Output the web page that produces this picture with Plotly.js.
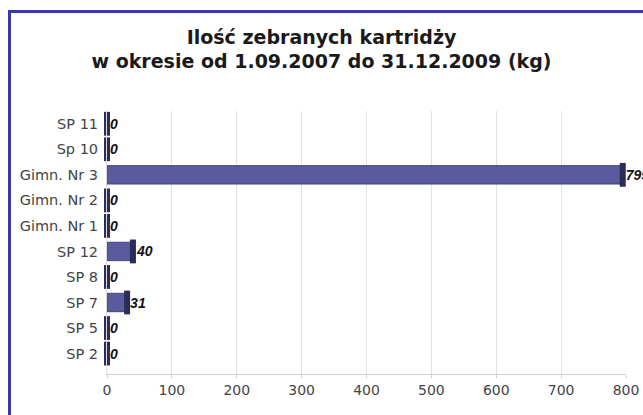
<!DOCTYPE html>
<html>
<head>
<meta charset="utf-8">
<script src="https://cdn.plot.ly/plotly-3.0.1.min.js"></script>
<style>
html,body{margin:0;padding:0;background:#fff;}
#wrap{position:relative;width:643px;height:415px;overflow:hidden;}
#frame{position:absolute;left:8px;top:10px;width:700px;height:500px;border-left:3px solid #3a3aa6;border-top:3px solid #3a3aa6;box-sizing:border-box;pointer-events:none;z-index:5;}
#chart{position:absolute;left:0;top:0;width:643px;height:415px;}
</style>
</head>
<body>
<div id="wrap"><div id="chart"></div><div id="frame"></div></div>
<script>
var categories = ["SP 2","SP 5","SP 7","SP 8","SP 12","Gimn. Nr 1","Gimn. Nr 2","Gimn. Nr 3","Sp 10","SP 11"];
var values = [0, 0, 31, 0, 40, 0, 0, 795, 0, 0];
var tickValues = [0,100,200,300,400,500,600,700,800];

var FONT = 'DejaVu Sans, Liberation Sans, Arial, sans-serif';

var bars = {
  type: 'bar',
  orientation: 'h',
  y: categories,
  x: values,
  width: 0.72,
  marker: {color: '#5a5a9e', line: {color: '#46467e', width: 1}},
  text: values.map(String),
  textposition: 'outside',
  cliponaxis: false,
  textfont: {family: 'Liberation Sans, Arial, sans-serif', size: 14, color: '#111', weight: 'bold', style: 'italic'},
  hoverinfo: 'x+y'
};
var caps = {
  type: 'scatter',
  mode: 'markers',
  y: categories,
  x: values,
  marker: {symbol: 'line-ns', size: 17, color: '#2c2c58', line: {width: 6, color: '#2c2c58'}},
  cliponaxis: false,
  hoverinfo: 'skip',
  showlegend: false
};

var layout = {
  width: 643, height: 415,
  margin: {l: 107, r: 17, t: 111, b: 41},
  paper_bgcolor: '#ffffff',
  plot_bgcolor: '#ffffff',
  showlegend: false,
  title: {
    text: '<b>Ilość zebranych kartridży<br>w okresie od 1.09.2007 do 31.12.2009 (kg)</b>',
    font: {family: FONT, size: 19, color: '#1a1a1a'},
    x: 0.5, xanchor: 'center', y: 0.895, yanchor: 'middle'
  },
  xaxis: {
    range: [0, 800],
    tickvals: tickValues,
    ticktext: tickValues.map(String),
    showgrid: true, gridcolor: '#e2e2e6', gridwidth: 1,
    zeroline: false,
    showline: true, linecolor: '#cfcfcf',
    ticks: 'outside', ticklen: 3, tickcolor: '#cfcfcf',
    tickfont: {family: FONT, size: 14, color: '#444'},
    fixedrange: true
  },
  yaxis: {
    type: 'category',
    categoryorder: 'array',
    categoryarray: categories,
    range: [-0.8, 9.5],
    showgrid: false,
    showline: true, linecolor: '#dcdcdc',
    ticks: '', ticklen: 0,
    ticklabelstandoff: 5,
    tickfont: {family: FONT, size: 14.5, color: '#444'},
    fixedrange: true
  },
  bargap: 0.28
};
Plotly.newPlot('chart', [bars, caps], layout, {displayModeBar: false, staticPlot: true});
</script>
</body>
</html>
